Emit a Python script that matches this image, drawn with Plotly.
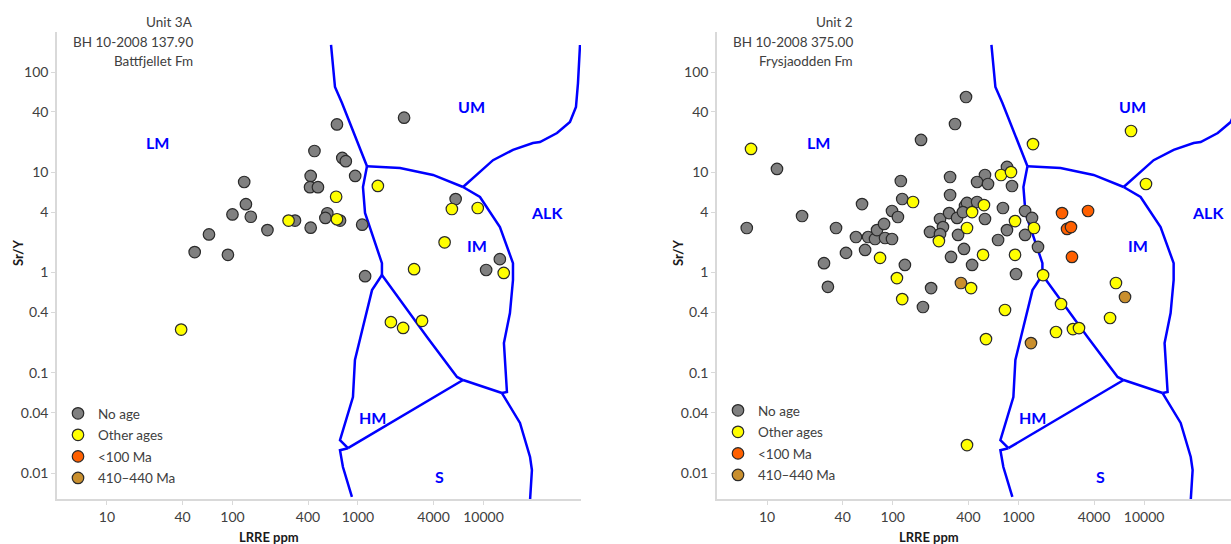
import numpy as np
import plotly.graph_objects as go

# ---------------- data ----------------
x_ticks = [10, 40, 100, 400, 1000, 4000, 10000]
y_ticks = [0.01, 0.04, 0.1, 0.4, 1, 4, 10, 40, 100]

series_names = ["No age", "Other ages", "<100 Ma", "410\u2013440 Ma"]
series_colors = ["#808080", "#ffff00", "#ff6000", "#c98f2e"]

# Left panel: Unit 3A, BH 10-2008 137.90, Battfjellet Fm
left_noage_x = [2330, 680, 450, 750, 800, 420, 950, 415, 480, 124, 128, 100, 140, 190,
                65, 50, 92, 315, 420, 570, 550, 720, 1080, 6000, 13500, 10500, 1140]
left_noage_y = [35, 30, 16.3, 13.9, 12.9, 9.2, 9.2, 7.1, 7.1, 8.0, 4.8, 3.8, 3.6, 2.65,
                2.4, 1.6, 1.5, 3.3, 2.8, 3.9, 3.5, 3.3, 3.0, 5.4, 1.36, 1.06, 0.92]
left_other_x = [280, 1440, 670, 680, 5600, 9000, 4900, 2800, 14500, 1830, 2290, 3240, 39]
left_other_y = [3.3, 7.3, 5.7, 3.4, 4.3, 4.4, 2.0, 1.08, 0.99, 0.32, 0.28, 0.33, 0.27]

# Right panel: Unit 2, BH 10-2008 375.00, Frysjaodden Fm
right_noage_x = [6.9, 12.0, 19.0, 28.4, 30.5, 35.4, 42.5, 51.0, 63.7, 72.3, 75.0, 57.0, 60.3,
                 85.3, 98.7, 110, 86.9, 98.7, 116, 119, 125, 168, 174, 202, 198, 238, 251,
                 238, 281, 286, 286, 325, 331, 376, 383, 313, 291, 369, 428, 390, 469, 362,
                 542, 542, 469, 573, 811, 889, 753, 1130, 1283, 811, 1130, 689, 1432, 957]
right_noage_y = [2.78, 10.8, 3.66, 1.24, 0.72, 2.78, 1.57, 2.26, 2.26, 2.16, 2.65, 4.82, 1.68,
                 3.05, 4.11, 3.58, 2.21, 2.16, 8.18, 5.41, 1.19, 21.0, 0.453, 0.70, 2.54, 3.42,
                 2.84, 2.42, 3.92, 8.97, 5.93, 3.50, 2.37, 4.61, 56.3, 30.3, 1.43, 1.72, 1.19,
                 4.94, 5.05, 4.01, 3.42, 9.39, 8.0, 7.64, 11.3, 7.29, 4.40, 4.11, 3.50, 2.65,
                 2.37, 2.11, 1.80, 0.966]
right_other_x = [7.46, 145, 79.3, 108, 119, 233, 727, 873, 532, 428, 940, 1330, 390, 523, 940,
                 1571, 1306, 7870, 10350, 420, 782, 552, 2183, 1991, 2716, 3034, 5970, 5360, 390]
right_other_y = [17.1, 5.05, 1.40, 0.88, 0.544, 2.06, 9.39, 10.05, 4.71, 4.01, 3.26, 2.78, 2.78,
                 1.50, 1.50, 0.944, 19.1, 25.8, 7.64, 0.70, 0.423, 0.217, 0.485, 0.255, 0.273,
                 0.279, 0.786, 0.352, 0.019]
right_young_x = [2223, 3581, 2438, 2620, 2667]
right_young_y = [3.92, 4.11, 2.72, 2.84, 1.43]
right_old_x = [349, 1259, 7050]
right_old_y = [0.786, 0.198, 0.57]

# Field boundaries (LRRE ppm, Sr/Y)
boundary_segments = [
    ([610, 656, 746, 1180], [186, 70.8, 49.1, 11.5]),
    ([1180, 2163, 3963, 6871], [11.5, 11.0, 9.4, 7.13]),
    ([6871, 11910, 17180, 24770, 28184, 38554, 48860, 54580, 56620, 58750],
     [7.13, 13.2, 16.7, 19.6, 20.0, 24.6, 31.7, 44.8, 77.6, 186]),
    ([6871, 9376, 13520, 17180, 17180, 16250, 14550, 15100, 15380, 14030],
     [7.13, 5.66, 2.84, 1.24, 0.841, 0.394, 0.198, 0.106, 0.0643, 0.0628]),
    ([14030, 19540, 23500, 24320, 23500], [0.0628, 0.0316, 0.01445, 0.0107, 0.00538]),
    ([14030, 6871], [0.0628, 0.0847]),
    ([6871, 6152, 3548, 1552], [0.0847, 0.0908, 0.2275, 0.944]),
    ([1180, 1096, 1138, 1294, 1552, 1552], [11.5, 7.13, 3.93, 2.48, 1.24, 0.944]),
    ([1552, 1294, 1096, 946, 912, 719, 832], [0.944, 0.668, 0.286, 0.134, 0.0573, 0.0213, 0.0177]),
    ([832, 719, 759, 895], [0.0177, 0.0169, 0.01148, 0.00577]),
    ([6871, 2951, 832], [0.0847, 0.0455, 0.0177]),
]

field_labels = ["LM", "UM", "ALK", "IM", "HM", "S"]
field_label_x = [25.5, 8090, 32060, 8870, 1294, 4500]
field_label_y = [19.6, 44.8, 4.01, 1.88, 0.0362, 0.00933]

left_title = ["Unit 3A", "BH 10-2008 137.90", "Battfjellet Fm"]
right_title = ["Unit 2", "BH 10-2008 375.00", "Frysjaodden Fm"]

# ---------------- figure ----------------
W, H = 1231, 544
FONT = "Lato, 'Open Sans', sans-serif"
TXT = "#404040"
AXC = "#d9d9d9"

def px_x(p):
    return p / W

def px_y(p):
    return 1 - p / H

fig = go.Figure()

bx, by = [], []
for sx, sy in boundary_segments:
    bx += sx + [None]
    by += sy + [None]

panels = [
    dict(xa="x", ya="y", legend="legend",
         series=[(left_noage_x, left_noage_y), (left_other_x, left_other_y), ([None], [None]), ([None], [None])]),
    dict(xa="x2", ya="y2", legend="legend2",
         series=[(right_noage_x, right_noage_y), (right_other_x, right_other_y),
                 (right_young_x, right_young_y), (right_old_x, right_old_y)]),
]

for pi, p in enumerate(panels):
    fig.add_trace(go.Scatter(x=bx, y=by, mode="lines", xaxis=p["xa"], yaxis=p["ya"],
                             line=dict(color="#0000ff", width=2.5), showlegend=False,
                             hoverinfo="skip"))
    for si, (sx, sy) in enumerate(p["series"]):
        fig.add_trace(go.Scatter(
            x=sx, y=sy, mode="markers", xaxis=p["xa"], yaxis=p["ya"],
            name=series_names[si], legend=p["legend"], legendgroup=f"g{pi}{si}",
            marker=dict(size=11.5, color=series_colors[si], line=dict(color="#2a2a2a", width=1.2)),
        ))

axis_common = dict(type="log", showgrid=False, zeroline=False, showline=True, linecolor=AXC,
                   linewidth=1.5, ticks="outside", ticklen=4, tickcolor=AXC, tickwidth=1.2,
                   tickfont=dict(family=FONT, size=14, color=TXT))

xdom1 = [px_x(57), px_x(581)]
xdom2 = [px_x(717), 1.0]
ydom = [px_y(499), px_y(32)]
xr1 = [0.602, 4.777]
xr2 = [0.602, 1 + (1231 - 767) / 125.7]
yr = [-2.259, 2.399]

fig.update_layout(
    width=W, height=H, margin=dict(l=0, r=0, t=0, b=0),
    paper_bgcolor="white", plot_bgcolor="white",
    font=dict(family=FONT, size=13.5, color=TXT),
    xaxis=dict(axis_common, domain=xdom1, range=xr1, tickvals=x_ticks,
               ticktext=[str(v) for v in x_ticks], anchor="y"),
    yaxis=dict(axis_common, domain=ydom, range=yr, tickvals=y_ticks,
               ticktext=[str(v) for v in y_ticks], anchor="x"),
    xaxis2=dict(axis_common, domain=xdom2, range=xr2, tickvals=x_ticks,
                ticktext=[str(v) for v in x_ticks], anchor="y2"),
    yaxis2=dict(axis_common, domain=ydom, range=yr, tickvals=y_ticks,
                ticktext=[str(v) for v in y_ticks], anchor="x2"),
    legend=dict(x=px_x(58), y=px_y(398), xanchor="left", yanchor="top",
                bgcolor="rgba(0,0,0,0)", tracegroupgap=1, traceorder="grouped",
                font=dict(family=FONT, size=13.5, color=TXT)),
    legend2=dict(x=px_x(718), y=px_y(395), xanchor="left", yanchor="top",
                 bgcolor="rgba(0,0,0,0)", tracegroupgap=1, traceorder="grouped",
                 font=dict(family=FONT, size=13.5, color=TXT)),
    showlegend=True,
)

ann = []
for xa, ya in [("x", "y"), ("x2", "y2")]:
    for lab, lx, ly in zip(field_labels, field_label_x, field_label_y):
        ann.append(dict(text=f"<b>{lab}</b>", x=np.log10(lx), y=np.log10(ly), xref=xa, yref=ya,
                        showarrow=False, font=dict(family=FONT, size=16, color="#0000ff")))

for lines, xr_px in [(left_title, 195), (right_title, 855)]:
    for i, t in enumerate(lines):
        ann.append(dict(text=t, x=px_x(xr_px), y=px_y(22 + 19.5 * i), xref="paper", yref="paper",
                        xanchor="right", yanchor="middle", showarrow=False,
                        font=dict(family=FONT, size=13.5, color=TXT)))

for ax_px in [57, 717]:
    ann.append(dict(text="<b>Sr/Y</b>", x=px_x(ax_px - 39), y=px_y(253), xref="paper", yref="paper",
                    xanchor="center", yanchor="middle",
                    textangle=-90, showarrow=False, font=dict(family=FONT, size=13, color="#1a1a1a")))
    ann.append(dict(text="<b>LRRE ppm</b>", x=px_x(ax_px + 212), y=px_y(537), xref="paper", yref="paper",
                    xanchor="center", yanchor="middle",
                    showarrow=False, font=dict(family=FONT, size=13, color="#1a1a1a")))

fig.update_layout(annotations=ann)
fig.write_html("out.html")
